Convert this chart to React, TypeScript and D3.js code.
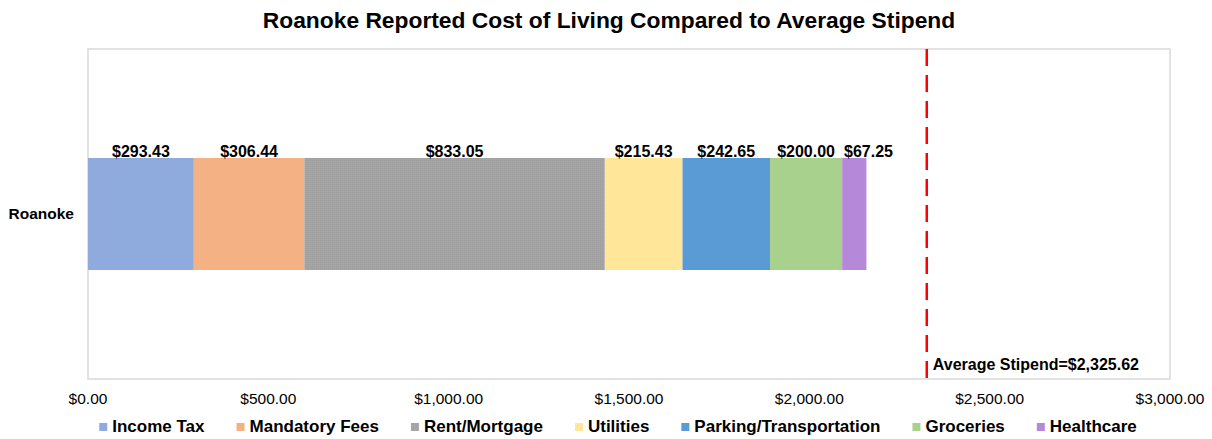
import React from "react";
import * as d3 from "d3";

const categories = ["Roanoke"];
const seriesNames = ["Income Tax", "Mandatory Fees", "Rent/Mortgage", "Utilities", "Parking/Transportation", "Groceries", "Healthcare"];
const seriesValues = [293.43, 306.44, 833.05, 215.43, 242.65, 200.0, 67.25];
const seriesColors = ["#8FAADC", "#F4B183", "#A5A5A5", "#FFE699", "#5B9BD5", "#A9D18E", "#B688DA"];
const xTicks = [0, 500, 1000, 1500, 2000, 2500, 3000];
const averageStipend = 2325.62;
const title = "Roanoke Reported Cost of Living Compared to Average Stipend";

const W = 1212;
const H = 439;
const plot = { left: 88, right: 1170, top: 49, bottom: 379 };
const FONT = "'Liberation Sans', Arial, sans-serif";

const money = (v: number) => "$" + d3.format(",.2f")(v);

let ctx: CanvasRenderingContext2D | null = null;
function measure(text: string, size: number, bold: boolean) {
  if (!ctx && typeof document !== "undefined") ctx = document.createElement("canvas").getContext("2d");
  if (!ctx) return text.length * size * 0.55;
  ctx.font = `${bold ? "bold " : ""}${size}px 'Liberation Sans', Arial, sans-serif`;
  return ctx.measureText(text).width;
}

export default function App() {
  const x = d3.scaleLinear().domain([0, 3000]).range([plot.left, plot.right]);
  const y = d3.scaleBand().domain(categories).range([plot.top, plot.bottom]).paddingInner(0).paddingOuter(0.973);

  const stacked: { name: string; v: number; x0: number; x1: number; color: string }[] = [];
  let acc = 0;
  seriesValues.forEach((v, i) => {
    stacked.push({ name: seriesNames[i], v, x0: acc, x1: acc + v, color: seriesColors[i] });
    acc += v;
  });

  const labelSize = 16;
  const labels = stacked.map((s) => {
    const text = money(s.v);
    const w = measure(text, labelSize, true);
    return { text, cx: (x(s.x0) + x(s.x1)) / 2, w };
  });
  for (let i = 1; i < labels.length; i++) {
    const prev = labels[i - 1];
    const minCx = prev.cx + prev.w / 2 + 9 + labels[i].w / 2;
    if (labels[i].cx < minCx) labels[i].cx = minCx;
  }

  const cat = categories[0];
  const by = y(cat)!;
  const bh = y.bandwidth();

  // legend layout
  const legendFont = 17;
  const legendY = 432;
  const markerGap = 13;
  const itemGap = 32;
  const legendWidths = seriesNames.map((n) => markerGap + measure(n, legendFont, true));
  const totalLegend = d3.sum(legendWidths) + itemGap * (seriesNames.length - 1);
  let lx = W / 2 + 12 - totalLegend / 2;
  const legendPos = legendWidths.map((w) => {
    const p = lx;
    lx += w + itemGap;
    return p;
  });

  return (
    <div style={{ position: "absolute", left: 0, top: 0 }}>
      <svg width={W} height={H} style={{ display: "block", background: "#fff" }} fontFamily={FONT}>
        <defs>
          <pattern id="rentTex" width="2" height="2" patternUnits="userSpaceOnUse">
            <rect width="2" height="2" fill="#A5A5A5" />
            <rect width="1" height="1" fill="#9D9D9D" />
          </pattern>
        </defs>
        <text x={W / 2 + 3} y={28} textAnchor="middle" fontSize={22.8} fontWeight="bold" fill="#000">
          {title}
        </text>
        <rect x={plot.left} y={plot.top} width={plot.right - plot.left} height={plot.bottom - plot.top} fill="none" stroke="#D9D9D9" strokeWidth={1.5} />
        {stacked.map((s, i) => (
          <rect key={s.name} x={x(s.x0)} y={by} width={x(s.x1) - x(s.x0)} height={bh} fill={i === 2 ? "url(#rentTex)" : s.color} />
        ))}
        {labels.map((l) => (
          <text key={l.text} x={l.cx} y={by - 1} textAnchor="middle" fontSize={labelSize} fontWeight="bold" fill="#000">
            {l.text}
          </text>
        ))}
        <text x={plot.left - 14} y={by + bh / 2 + 5} textAnchor="end" fontSize={15.5} fontWeight="bold" fill="#000">
          {cat}
        </text>
        <line x1={x(averageStipend)} x2={x(averageStipend)} y1={plot.top} y2={plot.bottom} stroke="#FF0000" strokeWidth={2.5} strokeDasharray="17,9" />
        <text x={x(averageStipend) + 6} y={plot.bottom - 9.5} fontSize={16} fontWeight="bold" fill="#000">
          {"Average Stipend=" + money(averageStipend)}
        </text>
        {xTicks.map((t) => (
          <text key={t} x={x(t)} y={404} textAnchor="middle" fontSize={15.5} fill="#000">
            {money(t)}
          </text>
        ))}
        {seriesNames.map((n, i) => (
          <g key={n} transform={`translate(${legendPos[i]},${legendY})`}>
            <rect x={0} y={-9} width={8} height={8} fill={seriesColors[i]} />
            <text x={markerGap} y={0} fontSize={legendFont} fontWeight="bold" fill="#000">
              {n}
            </text>
          </g>
        ))}
      </svg>
    </div>
  );
}
